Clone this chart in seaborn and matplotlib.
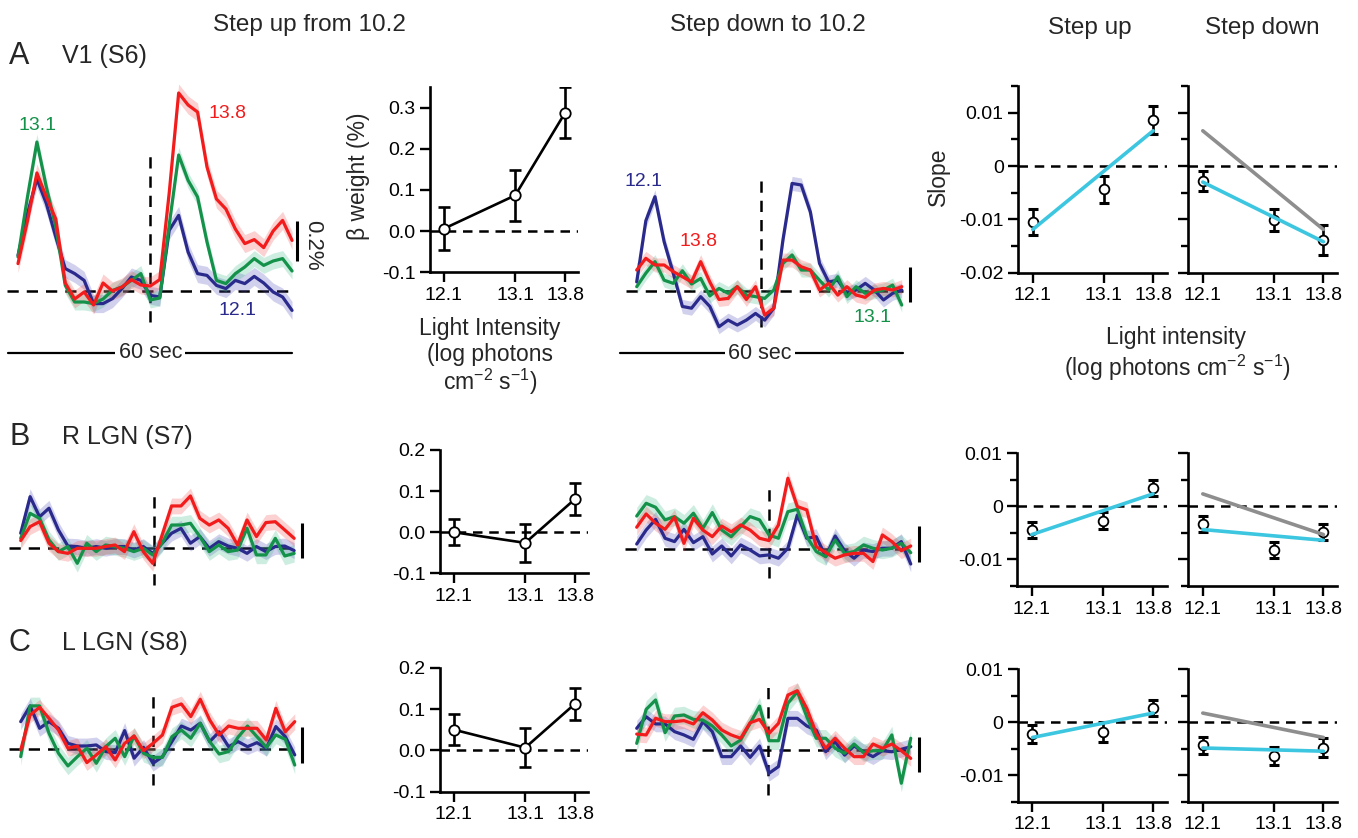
import numpy as np
import pandas as pd
import matplotlib
matplotlib.use("Agg")
import matplotlib.pyplot as plt
from matplotlib.ticker import MultipleLocator, FuncFormatter
import seaborn as sns

sns.set_theme(style="ticks")
plt.rcParams["font.family"] = ["Liberation Sans", "DejaVu Sans"]
plt.rcParams["axes.unicode_minus"] = False
plt.rcParams["mathtext.fontset"] = "custom"
plt.rcParams["mathtext.rm"] = "Liberation Sans"
plt.rcParams["mathtext.it"] = "Liberation Sans:italic"
plt.rcParams["mathtext.bf"] = "Liberation Sans:bold"

# ---------------------------------------------------------------- data
levels = ["12.1", "13.1", "13.8"]
intensity = [12.1, 13.1, 13.8]
time_idx = np.arange(30)

# BOLD time courses (% signal change), 2 s samples
v1_up_121 = [0.178, 0.387, 0.56, 0.437, 0.27, 0.112, 0.087, 0.053, -0.063, -0.063, -0.038, 0.012, 0.07, 0.053, -0.022,
             -0.03, 0.303, 0.378, 0.195, 0.087, 0.078, 0.028, 0.012, 0.053, 0.037, 0.073, 0.04, -0.005, -0.03, -0.097]
v1_up_131 = [0.17, 0.47, 0.745, 0.52, 0.32, 0.028, -0.055, -0.055, -0.063, -0.04, 0.003, 0.02, 0.053, 0.087, -0.045,
             -0.035, 0.33, 0.68, 0.553, 0.47, 0.245, 0.053, 0.037, 0.087, 0.12, 0.162, 0.128, 0.15, 0.162, 0.1]
v1_up_138 = [0.137, 0.35, 0.59, 0.47, 0.36, 0.04, -0.04, -0.005, -0.07, 0.04, 0.0, 0.02, 0.057, 0.03, 0.025,
             0.057, 0.49, 0.99, 0.93, 0.895, 0.62, 0.46, 0.41, 0.31, 0.237, 0.257, 0.217, 0.30, 0.353, 0.253]

v1_dn_121 = [0.05, 0.40, 0.537, 0.28, 0.10, -0.09, -0.10, -0.034, -0.09, -0.206, -0.168, -0.196, -0.168, -0.13, -0.168,
             -0.10, 0.29, 0.613, 0.604, 0.45, 0.156, 0.05, 0.06, -0.015, 0.004, 0.042, 0.004, -0.053, -0.015, 0.004]
v1_dn_131 = [0.023, 0.1, 0.166, 0.06, 0.042, 0.114, 0.038, 0.07, -0.03, 0.013, -0.015, 0.023, -0.025, -0.034, -0.044,
             0.004, 0.156, 0.204, 0.118, 0.118, 0.06, 0.004, 0.08, -0.034, 0.023, -0.015, -0.006, 0.004, 0.032, -0.082]
v1_dn_138 = [0.118, 0.185, 0.147, 0.147, 0.109, 0.08, 0.05, 0.166, 0.05, -0.05, -0.044, 0.023, -0.05, 0.023, -0.139,
             -0.10, 0.175, 0.175, 0.137, 0.118, 0.004, 0.042, -0.025, 0.023, -0.025, -0.038, 0.004, 0.013, 0.004, 0.023]

rlgn_up_121 = [0.086, 0.295, 0.18, 0.229, 0.105, 0.013, 0.01, 0.0, 0.01, 0.0, 0.01, 0.01, -0.01, 0.01, -0.029,
               0.029, 0.086, 0.114, 0.029, 0.067, 0.0, 0.038, 0.013, 0.0, -0.029, 0.01, -0.019, 0.01, 0.013, -0.013]
rlgn_up_131 = [0.057, 0.2, 0.171, 0.048, -0.019, 0.01, -0.086, 0.029, -0.019, 0.019, 0.01, 0.0, -0.019, 0.0, -0.038,
               0.029, 0.133, 0.133, 0.143, 0.067, -0.019, 0.019, -0.019, -0.01, 0.114, -0.038, -0.038, 0.057, -0.044, -0.029]
rlgn_up_138 = [0.044, 0.124, 0.152, 0.029, -0.019, -0.029, 0.0, 0.0, 0.0, 0.01, 0.019, -0.019, 0.095, -0.019, -0.086,
               0.076, 0.242, 0.242, 0.299, 0.171, 0.133, 0.162, 0.114, 0.019, 0.162, 0.067, 0.147, 0.152, 0.105, 0.057]

rlgn_dn_121 = [0.03, 0.11, 0.171, 0.063, 0.044, 0.114, 0.038, 0.072, -0.027, 0.019, -0.038, 0.025, -0.004, -0.038, -0.032,
               -0.051, 0.006, 0.196, 0.063, 0.072, -0.042, 0.076, -0.008, -0.051, -0.004, -0.013, 0.006, 0.006, 0.044, -0.084]
rlgn_dn_131 = [0.19, 0.263, 0.24, 0.168, 0.187, 0.149, 0.206, 0.12, 0.21, 0.11, 0.072, 0.13, 0.187, 0.168, 0.082,
               0.063, 0.215, 0.229, 0.072, -0.013, -0.042, 0.053, -0.023, -0.013, 0.025, 0.006, -0.004, 0.006, 0.034, -0.019]
rlgn_dn_138 = [0.126, 0.202, 0.149, 0.114, 0.183, 0.034, 0.177, 0.11, 0.072, 0.133, 0.10, 0.139, 0.11, 0.063, 0.05,
               0.139, 0.406, 0.244, 0.225, 0.015, -0.019, -0.051, -0.032, -0.023, -0.023, -0.07, 0.082, 0.044, -0.008, 0.019]

llgn_up_121 = [0.158, 0.248, 0.12, 0.158, 0.12, 0.034, 0.019, 0.019, 0.025, -0.013, -0.019, 0.107, -0.051, 0.011, -0.08,
               -0.042, 0.044, 0.133, 0.11, 0.149, 0.044, 0.10, 0.015, 0.044, 0.015, 0.038, 0.006, 0.13, 0.072, -0.032]
llgn_up_131 = [-0.042, 0.248, 0.248, 0.091, -0.023, -0.095, -0.042, 0.006, -0.08, 0.015, 0.063, -0.042, 0.076, -0.023, -0.046,
               -0.046, 0.072, 0.11, 0.063, 0.149, 0.044, -0.027, -0.013, 0.069, 0.133, 0.072, 0.011, 0.082, 0.057, -0.09]
llgn_up_138 = [-0.004, 0.196, 0.24, 0.177, 0.11, 0.006, 0.019, -0.076, -0.032, 0.015, -0.061, 0.034, 0.076, -0.008, 0.034,
               0.082, 0.24, 0.259, 0.187, 0.286, 0.168, 0.082, 0.133, 0.12, 0.12, 0.12, 0.053, 0.234, 0.10, 0.158]

llgn_dn_121 = [0.124, 0.19, 0.149, 0.149, 0.105, 0.086, 0.061, 0.162, 0.105, -0.038, -0.038, 0.023, -0.042, 0.023, -0.133,
               -0.095, 0.181, 0.181, 0.137, 0.114, -0.01, 0.048, -0.029, 0.023, -0.01, -0.038, -0.004, -0.01, 0.004, 0.019]
llgn_dn_131 = [0.038, 0.232, 0.286, 0.099, 0.194, 0.2, 0.175, 0.171, 0.137, 0.086, 0.023, 0.057, 0.152, 0.251, 0.053,
               0.053, 0.267, 0.333, 0.19, 0.067, 0.067, 0.01, -0.019, 0.034, -0.015, -0.004, -0.004, 0.086, -0.19, 0.067]
llgn_dn_138 = [0.091, 0.086, 0.181, 0.162, 0.162, 0.168, 0.149, 0.213, 0.171, 0.114, 0.086, 0.067, 0.156, 0.175, 0.095,
               0.152, 0.314, 0.339, 0.238, 0.095, 0.01, 0.067, 0.01, -0.038, -0.038, 0.034, 0.01, 0.034, -0.004, -0.048]

# SEM of each time course (12.1, 13.1, 13.8)
sem_v1_up = [0.045, 0.04, 0.045]
sem_v1_dn = [0.04, 0.04, 0.04]
sem_lgn = [0.045, 0.05, 0.045]

# beta weights (%) for the step-up response
beta_v1 = [0.006, 0.087, 0.288]
beta_v1_err = [0.053, 0.062, 0.062]
beta_rlgn = [0.0, -0.026, 0.081]
beta_rlgn_err = [0.032, 0.047, 0.038]
beta_llgn = [0.05, 0.0065, 0.113]
beta_llgn_err = [0.037, 0.047, 0.039]

# adaptation slopes
slope_up_v1 = [-0.0105, -0.0044, 0.0086]
slope_up_v1_err = [0.0024, 0.0025, 0.0026]
slope_dn_v1 = [-0.0028, -0.0101, -0.0139]
slope_dn_v1_err = [0.0018, 0.0021, 0.0028]
slope_up_rlgn = [-0.0045, -0.00275, 0.0035]
slope_up_rlgn_err = [0.0015, 0.0016, 0.0015]
slope_dn_rlgn = [-0.00325, -0.00825, -0.0048]
slope_dn_rlgn_err = [0.0015, 0.0015, 0.0015]
slope_up_llgn = [-0.0022, -0.0019, 0.0027]
slope_up_llgn_err = [0.0017, 0.0019, 0.0015]
slope_dn_llgn = [-0.0044, -0.0064, -0.0048]
slope_dn_llgn_err = [0.0016, 0.0017, 0.0018]

# ---------------------------------------------------------------- styling
line_colors = {"12.1": "#2a2a8c", "13.1": "#14924a", "13.8": "#f21c1c"}
band_colors = {"12.1": "#4a4ab8", "13.1": "#3cb88a", "13.8": "#f04848"}
fit_color = "#3cc6e0"
mirror_color = "#8e8e8e"

W, H = 1358, 838
fig = plt.figure(figsize=(W / 100, H / 100), dpi=100)
fig.patch.set_facecolor("white")


def px_axes(x0, y0, x1, y1):
    return fig.add_axes([x0 / W, 1 - y1 / H, (x1 - x0) / W, (y1 - y0) / H])


def ftext(x, y, s, **kw):
    kw.setdefault("ha", "center")
    kw.setdefault("va", "center")
    fig.text(x / W, 1 - y / H, s, **kw)


def trace_panel(p0, step, zero_y, scale, top, bottom, series, sems, onset, vspan, bar_x, bar_span, sixty=None):
    ax = px_axes(p0 - 2 * step, top, p0 + 31 * step, bottom)
    ax.set_xlim(-2, 31)
    ax.set_ylim((zero_y - bottom) / scale, (zero_y - top) / scale)
    ax.axis("off")
    ax.plot([-1.2, 29.1], [0, 0], color="black", lw=1.8, dashes=(4.5, 3.2), zorder=1)
    ax.vlines(onset, vspan[0], vspan[1], color="black", lw=1.8, linestyles=(0, (4.5, 3.2)), zorder=1)
    frames = []
    for lev, vals, sem in zip(levels, series, sems):
        v = np.asarray(vals)
        ax.fill_between(time_idx, v - sem, v + sem, color=band_colors[lev], alpha=0.25, lw=0, zorder=2)
        frames.append(pd.DataFrame({"t": time_idx, "signal": v, "level": lev}))
    df = pd.concat(frames)
    sns.lineplot(data=df, x="t", y="signal", hue="level", hue_order=levels, palette=line_colors,
                 legend=False, errorbar=None, lw=2.3, ax=ax, zorder=3)
    ax.axis("off")
    ax.plot([bar_x, bar_x], bar_span, color="black", lw=2.2, clip_on=False, solid_capstyle="butt")
    if sixty is not None:
        y60, xa, xb, xc = sixty
        ax.plot([xa, xb], [y60, y60], color="black", lw=1.6, clip_on=False)
        ax.text(xc, y60, "60 sec", ha="center", va="center", fontsize=15.5,
                bbox=dict(facecolor="white", edgecolor="none", pad=2.5))
    return ax


def style_axes(ax):
    for s in ["top", "right"]:
        ax.spines[s].set_visible(False)
    for s in ["left", "bottom"]:
        ax.spines[s].set_linewidth(1.9)
        ax.spines[s].set_color("black")
    ax.tick_params(which="major", direction="out", length=7, width=1.7, color="black",
                   labelsize=14, labelcolor="black", pad=3.5)
    ax.tick_params(which="minor", direction="out", length=5, width=1.7, color="black")
    ax.set_facecolor("none")
    ax.grid(False)
    ax.set_xlabel("")
    ax.set_ylabel("")


def beta_panel(rect, vals, errs, ylim):
    ax = px_axes(*rect)
    ax.axhline(0, color="black", lw=1.8, dashes=(3.8, 2.7), zorder=1)
    ax.errorbar(intensity, vals, yerr=errs, fmt="none", ecolor="black", elinewidth=1.9,
                capsize=4, capthick=1.9, zorder=2)
    sns.lineplot(x=intensity, y=vals, ax=ax, color="black", lw=1.9, zorder=3)
    ax.plot(intensity, vals, "o", ms=7.5, mfc="white", mec="black", mew=1.3, zorder=4)
    ax.set_xlim(11.905, 13.98)
    ax.set_ylim(*ylim)
    ax.set_xticks(intensity)
    ax.set_xticklabels(levels)
    ax.yaxis.set_major_locator(MultipleLocator(0.1))
    ax.yaxis.set_major_formatter(FuncFormatter(lambda v, p: f"{v:.1f}"))
    style_axes(ax)
    return ax


def slope_panel(rect, vals, errs, ylim, fit_source, mirror=False, ylabels=True):
    ax = px_axes(*rect)
    ax.axhline(0, color="black", lw=1.8, dashes=(3.8, 2.7), zorder=1)
    ax.errorbar(intensity, vals, yerr=errs, fmt="none", ecolor="black", elinewidth=1.9,
                capsize=3.5, capthick=2.2, zorder=2)
    ax.plot(intensity, vals, "o", ms=7, mfc="white", mec="black", mew=1.3, zorder=3)
    if mirror:
        # step-up regression reflected across the intensity range
        xm = [intensity[0] + intensity[-1] - x for x in intensity]
        sns.regplot(x=xm, y=fit_source, scatter=False, ci=None, truncate=True, ax=ax,
                    line_kws=dict(color=mirror_color, lw=2.6, zorder=4))
    sns.regplot(x=intensity, y=vals, scatter=False, ci=None, truncate=True, ax=ax,
                line_kws=dict(color=fit_color, lw=2.6, zorder=5))
    ax.set_xlim(11.896, 13.996)
    ax.set_ylim(*ylim)
    ax.set_xticks(intensity)
    ax.set_xticklabels(levels)
    ax.yaxis.set_major_locator(MultipleLocator(0.01))
    ax.yaxis.set_minor_locator(MultipleLocator(0.005))
    ax.yaxis.set_major_formatter(FuncFormatter(lambda v, p: "0" if abs(v) < 1e-9 else f"{v:g}"))
    style_axes(ax)
    if not ylabels:
        ax.tick_params(axis="y", labelleft=False)
    return ax


# ---------------------------------------------------------------- time courses
trace_panel(18, 9.45, 291, 200, 70, 370, [v1_up_121, v1_up_131, v1_up_138], sem_v1_up,
            14, (-0.155, 0.69), 29.5, (0.15, 0.35), sixty=(-0.31, -1.06, 29.0, 14.0))
trace_panel(636.7, 9.14, 290.7, 175, 70, 370, [v1_dn_121, v1_dn_131, v1_dn_138], sem_v1_dn,
            13.6, (-0.21, 0.66), 29.9, (-0.065, 0.135), sixty=(-0.356, -1.83, 29.1, 13.5))
trace_panel(20.7, 9.43, 548.3, 175, 470, 600, [rlgn_up_121, rlgn_up_131, rlgn_up_138], sem_lgn,
            14.1, (-0.21, 0.30), 29.8, (-0.055, 0.145))
trace_panel(636.7, 9.45, 549.3, 175, 470, 600, [rlgn_dn_121, rlgn_dn_131, rlgn_dn_138], sem_lgn,
            14.0, (-0.164, 0.379), 29.9, (-0.073, 0.133))
trace_panel(20.7, 9.45, 749.3, 175, 670, 800, [llgn_up_121, llgn_up_131, llgn_up_138], sem_lgn,
            14.0, (-0.204, 0.327), 29.8, (-0.078, 0.127))
trace_panel(636.7, 9.45, 750, 175, 670, 800, [llgn_dn_121, llgn_dn_131, llgn_dn_138], sem_lgn,
            13.9, (-0.257, 0.396), 29.9, (-0.126, 0.074))

# ---------------------------------------------------------------- beta weights
beta_panel((430, 86.7, 578, 272.3), beta_v1, beta_v1_err, (-0.1, 0.351))
beta_panel((440, 450, 588, 573.3), beta_rlgn, beta_rlgn_err, (-0.1, 0.2))
beta_panel((440, 667.7, 588, 791.7), beta_llgn, beta_llgn_err, (-0.1, 0.2))

# ---------------------------------------------------------------- slopes
slope_panel((1018.3, 86, 1167, 272.7), slope_up_v1, slope_up_v1_err, (-0.02, 0.015), None)
slope_panel((1188.3, 86, 1337.3, 272.7), slope_dn_v1, slope_dn_v1_err, (-0.02, 0.015), slope_up_v1,
            mirror=True, ylabels=False)
slope_panel((1017.3, 453.3, 1167, 586), slope_up_rlgn, slope_up_rlgn_err, (-0.015, 0.01), None)
slope_panel((1188.3, 453.3, 1337.3, 586), slope_dn_rlgn, slope_dn_rlgn_err, (-0.015, 0.01), slope_up_rlgn,
            mirror=True, ylabels=False)
slope_panel((1018, 669, 1167, 801.7), slope_up_llgn, slope_up_llgn_err, (-0.015, 0.01), None)
slope_panel((1188.3, 669, 1337.3, 801.7), slope_dn_llgn, slope_dn_llgn_err, (-0.015, 0.01), slope_up_llgn,
            mirror=True, ylabels=False)

# ---------------------------------------------------------------- text
ftext(309, 25, "Step up from 10.2", fontsize=17.5)
ftext(768, 25, "Step down to 10.2", fontsize=17.5)
ftext(1090, 28, "Step up", fontsize=17.5)
ftext(1262, 28, "Step down", fontsize=17.5)

for letter, name, y in [("A", "V1 (S6)", 56), ("B", "R LGN (S7)", 437), ("C", "L LGN (S8)", 643)]:
    ftext(9, y, letter, fontsize=22, ha="left")
    ftext(62, y, name, fontsize=18, ha="left")

ftext(38, 125, "13.1", fontsize=14, color=line_colors["13.1"])
ftext(228, 113, "13.8", fontsize=14, color=line_colors["13.8"])
ftext(237, 310, "12.1", fontsize=14, color=line_colors["12.1"])
ftext(644, 181, "12.1", fontsize=14, color=line_colors["12.1"])
ftext(699, 241, "13.8", fontsize=14, color=line_colors["13.8"])
ftext(872, 318, "13.1", fontsize=14, color=line_colors["13.1"])
ftext(313, 245, "0.2%", fontsize=16, rotation=270)

ftext(359, 176, "β weight (%)", fontsize=16.5, rotation=90)
ftext(490, 328, "Light Intensity", fontsize=16.5)
ftext(490, 355, "(log photons", fontsize=16.5)
ftext(490, 382, r"cm$^{-2}$ s$^{-1}$)", fontsize=16.5)

ftext(938, 177, "Slope", fontsize=16.5, rotation=90)
ftext(1176, 337, "Light intensity", fontsize=16.5)
ftext(1177, 368, r"(log photons cm$^{-2}$ s$^{-1}$)", fontsize=16.5)

fig.savefig("out.png", dpi=100, facecolor="white")
